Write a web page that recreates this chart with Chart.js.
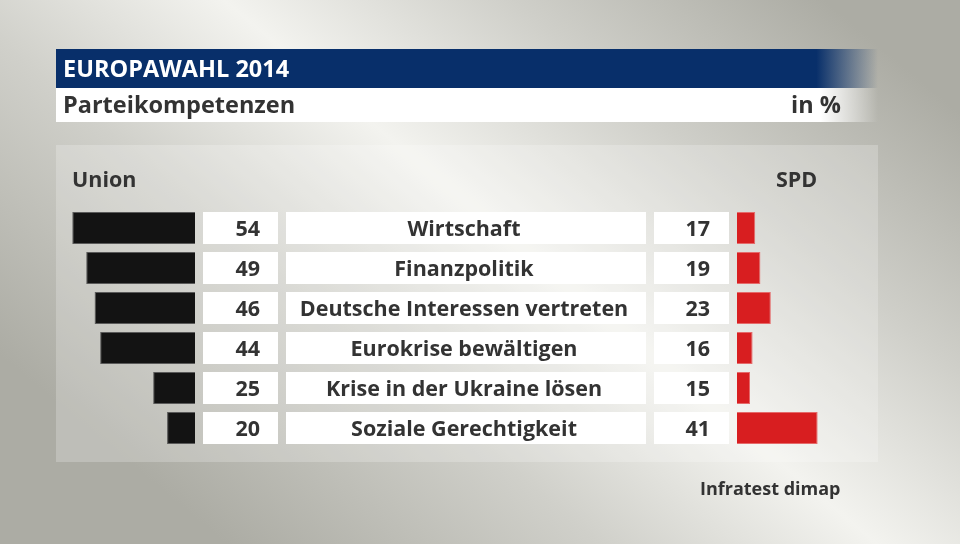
<!DOCTYPE html>
<html>
<head>
<meta charset="utf-8">
<script src="https://cdn.jsdelivr.net/npm/chart.js"></script>
<style>
  body { margin: 0; width: 960px; height: 544px; overflow: hidden; }
  #wrap { position: relative; width: 960px; height: 544px; }
  canvas { position: absolute; top: 0; }
  #union { left: 0; }
  #spd { left: 737px; }
</style>
</head>
<body>
<div id="wrap">
  <canvas id="union" width="960" height="544"></canvas>
  <canvas id="spd" width="223" height="544"></canvas>
</div>
<script>
const categories = [
  'Wirtschaft',
  'Finanzpolitik',
  'Deutsche Interessen vertreten',
  'Eurokrise bewältigen',
  'Krise in der Ukraine lösen',
  'Soziale Gerechtigkeit'
];
const unionValues = [54, 49, 46, 44, 25, 20];
const spdValues = [17, 19, 23, 16, 15, 41];

const FONT = '"Open Sans", "DejaVu Sans", sans-serif';
const TEXT = '#333333';

function bg(ctx) {
  // diagonal light band, darker corners top right / bottom left
  const g = ctx.createLinearGradient(269, 579, 781, -36);
  g.addColorStop(0, '#acaca4');
  g.addColorStop(0.3, '#d0d0ca');
  g.addColorStop(0.52, '#f3f3ef');
  g.addColorStop(0.75, '#cfcfc9');
  g.addColorStop(1, '#acaca4');
  ctx.fillStyle = g;
  ctx.fillRect(0, 0, 960, 544);

  // header bars, fading out at the right
  const blue = ctx.createLinearGradient(56, 0, 878, 0);
  blue.addColorStop(0, 'rgba(8,47,106,1)');
  blue.addColorStop(0.925, 'rgba(8,47,106,1)');
  blue.addColorStop(1, 'rgba(8,47,106,0)');
  ctx.fillStyle = blue;
  ctx.fillRect(56, 49, 822, 39);

  const white = ctx.createLinearGradient(56, 0, 878, 0);
  white.addColorStop(0, 'rgba(255,255,255,1)');
  white.addColorStop(0.93, 'rgba(255,255,255,1)');
  white.addColorStop(1, 'rgba(255,255,255,0)');
  ctx.fillStyle = white;
  ctx.fillRect(56, 88, 822, 34);

  // panel
  ctx.fillStyle = 'rgba(255,255,255,0.22)';
  ctx.fillRect(56, 145, 822, 317);

  ctx.textBaseline = 'alphabetic';
  ctx.fillStyle = '#ffffff';
  ctx.font = 'bold 23.5px ' + FONT;
  ctx.textAlign = 'left';
  ctx.fillText('EUROPAWAHL 2014', 63, 77);

  ctx.fillStyle = TEXT;
  ctx.font = 'bold 23.5px ' + FONT;
  ctx.fillText('Parteikompetenzen', 63, 113);
  ctx.textAlign = 'right';
  ctx.fillText('in %', 841, 113);

  ctx.font = 'bold 21.5px ' + FONT;
  ctx.textAlign = 'left';
  ctx.fillText('Union', 72, 187);
  ctx.fillText('SPD', 776, 187);

  ctx.font = 'bold 18px ' + FONT;
  ctx.fillText('Infratest dimap', 700, 495);
}

const tablePlugin = {
  id: 'table',
  beforeDraw(chart) {
    bg(chart.ctx);
  },
  afterDatasetsDraw(chart) {
    const ctx = chart.ctx;
    const y = chart.scales.y;
    ctx.save();
    categories.forEach((cat, i) => {
      const cy = y.getPixelForValue(i);
      ctx.fillStyle = '#ffffff';
      ctx.fillRect(203, cy - 16, 75, 32);
      ctx.fillRect(286, cy - 16, 360, 32);
      ctx.fillRect(654, cy - 16, 75, 32);

      ctx.fillStyle = TEXT;
      ctx.font = 'bold 21.5px ' + FONT;
      ctx.textBaseline = 'middle';
      ctx.textAlign = 'right';
      ctx.fillText(String(unionValues[i]), 260, cy + 2);
      ctx.fillText(String(spdValues[i]), 710, cy + 2);
      ctx.textAlign = 'center';
      ctx.fillText(cat, 464, cy + 2);
    });
    ctx.restore();
  }
};

const baseOptions = {
  indexAxis: 'y',
  responsive: false,
  animation: false,
  plugins: { legend: { display: false }, tooltip: { enabled: false } },
  datasets: { bar: { barPercentage: 0.8, categoryPercentage: 1.0 } }
};

new Chart(document.getElementById('union'), {
  type: 'bar',
  data: {
    labels: categories,
    datasets: [{
      label: 'Union',
      data: unionValues,
      backgroundColor: '#131313',
      borderColor: '#5a5a5a',
      borderWidth: 1
    }]
  },
  options: Object.assign({}, baseOptions, {
    layout: { padding: { left: 60, right: 765, top: 208, bottom: 96 } },
    scales: {
      x: { type: 'linear', reverse: true, min: 10, max: 58.4, display: false },
      y: { type: 'category', display: false }
    }
  }),
  plugins: [tablePlugin]
});

new Chart(document.getElementById('spd'), {
  type: 'bar',
  data: {
    labels: categories,
    datasets: [{
      label: 'SPD',
      data: spdValues,
      backgroundColor: '#d81e20',
      borderColor: '#e56a6a',
      borderWidth: 1
    }]
  },
  options: Object.assign({}, baseOptions, {
    layout: { padding: { left: 0, right: 82, top: 208, bottom: 96 } },
    scales: {
      x: { type: 'linear', min: 10, max: 64.2, display: false },
      y: { type: 'category', display: false }
    }
  })
});
</script>
</body>
</html>
